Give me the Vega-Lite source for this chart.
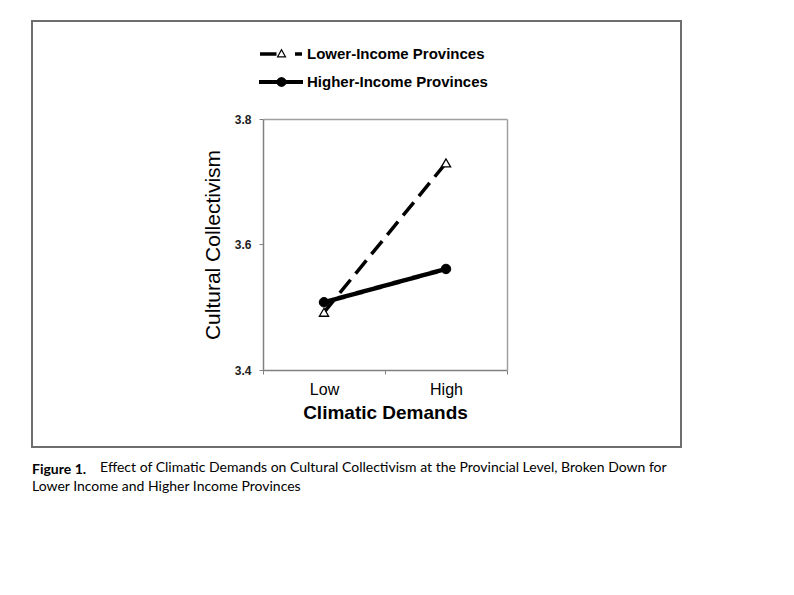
{
  "$schema": "https://vega.github.io/schema/vega-lite/v6.json",
  "width": 649,
  "height": 426,
  "autosize": {"type": "none"},
  "padding": {"left": 32, "top": 21, "right": 113, "bottom": 148},
  "background": "white",
  "config": {
    "font": "Liberation Sans",
    "view": {"stroke": "#6e6e6e", "strokeWidth": 2},
    "axis": {"grid": false}
  },
  "title": {
    "text": "Figure 1.",
    "subtitle": ["\u200b\u00a0\u00a0\u00a0\u00a0\u00a0\u00a0\u00a0\u00a0\u00a0\u00a0\u00a0\u00a0\u00a0\u00a0\u00a0\u00a0\u00a0\u00a0\u00a0Effect of Climatic Demands on Cultural Collectivism at the Provincial Level, Broken Down for", "Lower Income and Higher Income Provinces"],
    "orient": "bottom",
    "anchor": "start",
    "frame": "group",
    "offset": 16,
    "font": "Lato",
    "fontSize": 14,
    "fontWeight": "bold",
    "color": "black",
    "subtitleFont": "Lato",
    "subtitleFontSize": 14,
    "subtitleColor": "black",
    "subtitleLineHeight": 19,
    "subtitlePadding": -16
  },
  "data": {
    "values": [
      {"series": "Lower-Income Provinces", "demands": "Low", "value": 3.492},
      {"series": "Lower-Income Provinces", "demands": "High", "value": 3.730},
      {"series": "Higher-Income Provinces", "demands": "Low", "value": 3.508},
      {"series": "Higher-Income Provinces", "demands": "High", "value": 3.561}
    ]
  },
  "layer": [
    {
      "mark": {"type": "line", "color": "black"},
      "encoding": {
        "x": {
          "field": "demands", "type": "nominal",
          "scale": {"type": "band", "domain": ["Low", "High"], "range": [231, 475], "paddingInner": 0, "paddingOuter": 0},
          "axis": {
            "orient": "bottom", "offset": -77, "tickBand": "extent",
            "title": "Climatic Demands", "titleFontSize": 19, "titleFontWeight": "bold", "titleColor": "black", "titlePadding": 6,
            "labelFontSize": 16, "labelColor": "black", "labelPadding": 7, "labelAngle": 0,
            "tickSize": 4, "tickColor": "#808080", "domainColor": "#808080", "domainWidth": 1.5
          }
        },
        "y": {
          "field": "value", "type": "quantitative",
          "scale": {"domain": [3.4, 3.8], "range": [349, 98], "zero": false, "nice": false},
          "axis": {
            "orient": "left", "offset": -231, "values": [3.4, 3.6, 3.8], "format": ".1f",
            "title": "Cultural Collectivism", "titleFontSize": 21, "titleFontWeight": "normal", "titleColor": "black", "titlePadding": 11,
            "labelFontSize": 12, "labelFontWeight": "bold", "labelColor": "#222222", "labelPadding": 8,
            "tickSize": 4, "tickColor": "#808080", "domainColor": "#808080", "domainWidth": 1.5, "grid": false
          }
        },
        "strokeDash": {
          "field": "series", "type": "nominal",
          "scale": {"domain": ["Higher-Income Provinces", "Lower-Income Provinces"], "range": [[1, 0], [17, 8]]},
          "legend": null
        },
        "strokeWidth": {
          "field": "series", "type": "ordinal",
          "scale": {"domain": ["Higher-Income Provinces", "Lower-Income Provinces"], "range": [4.5, 3.5]},
          "legend": null
        }
      }
    },
    {
      "transform": [{"filter": "datum.series === 'Lower-Income Provinces'"}],
      "mark": {"type": "point", "shape": "triangle-up", "filled": true, "fill": "white", "stroke": "black", "strokeWidth": 1.3, "size": 85, "opacity": 1},
      "encoding": {
        "x": {
          "field": "demands", "type": "nominal",
          "axis": {"orient": "top", "offset": -98, "labels": false, "ticks": false, "title": null, "domainColor": "#a0a0a0", "domainWidth": 1.5}
        },
        "y": {
          "field": "value", "type": "quantitative",
          "axis": {"orient": "right", "offset": -174, "labels": false, "ticks": false, "title": null, "domainColor": "#a0a0a0", "domainWidth": 1.5, "grid": false}
        }
      }
    },
    {
      "transform": [{"filter": "datum.series === 'Higher-Income Provinces'"}],
      "mark": {"type": "point", "shape": "circle", "filled": true, "fill": "black", "stroke": "black", "strokeWidth": 1, "size": 90, "opacity": 1},
      "encoding": {
        "x": {"field": "demands", "type": "nominal", "axis": null},
        "y": {"field": "value", "type": "quantitative", "axis": null}
      }
    },
    {
      "transform": [{"filter": "false"}],
      "mark": {"type": "point", "filled": true, "color": "black", "strokeWidth": 0, "opacity": 1},
      "encoding": {
        "shape": {
          "field": "series", "type": "nominal",
          "scale": {
            "domain": ["Lower-Income Provinces", "Higher-Income Provinces"],
            "range": [
              "M-2.1,-0.17L-0.45,-0.17L-0.45,0.17L-2.1,0.17Z M1.4,-0.17L2.1,-0.17L2.1,0.17L1.4,0.17Z M-0.45,0.35L0.05,-0.55L0.55,0.35Z M-0.245,0.229L0.345,0.229L0.05,-0.301Z",
              "M-2.2,-0.2L2.2,-0.2L2.2,0.2L-2.2,0.2Z M0.55,0L0.483,0.25L0.3,0.433L0.05,0.5L-0.2,0.433L-0.383,0.25L-0.45,0L-0.383,-0.25L-0.2,-0.433L0.05,-0.5L0.3,-0.433L0.483,-0.25Z"
            ]
          },
          "legend": {
            "orient": "none", "legendX": 239, "legendY": 23, "title": null, "padding": 0,
            "symbolSize": 400, "symbolFillColor": "black", "symbolStrokeWidth": 0, "symbolOpacity": 1,
            "rowPadding": 10, "labelOffset": 16, "labelLimit": 400,
            "labelFontSize": 15, "labelFontWeight": "bold", "labelColor": "black", "labelFont": "Liberation Sans"
          }
        }
      }
    }
  ],
  "resolve": {"axis": {"x": "independent", "y": "independent"}}
}
